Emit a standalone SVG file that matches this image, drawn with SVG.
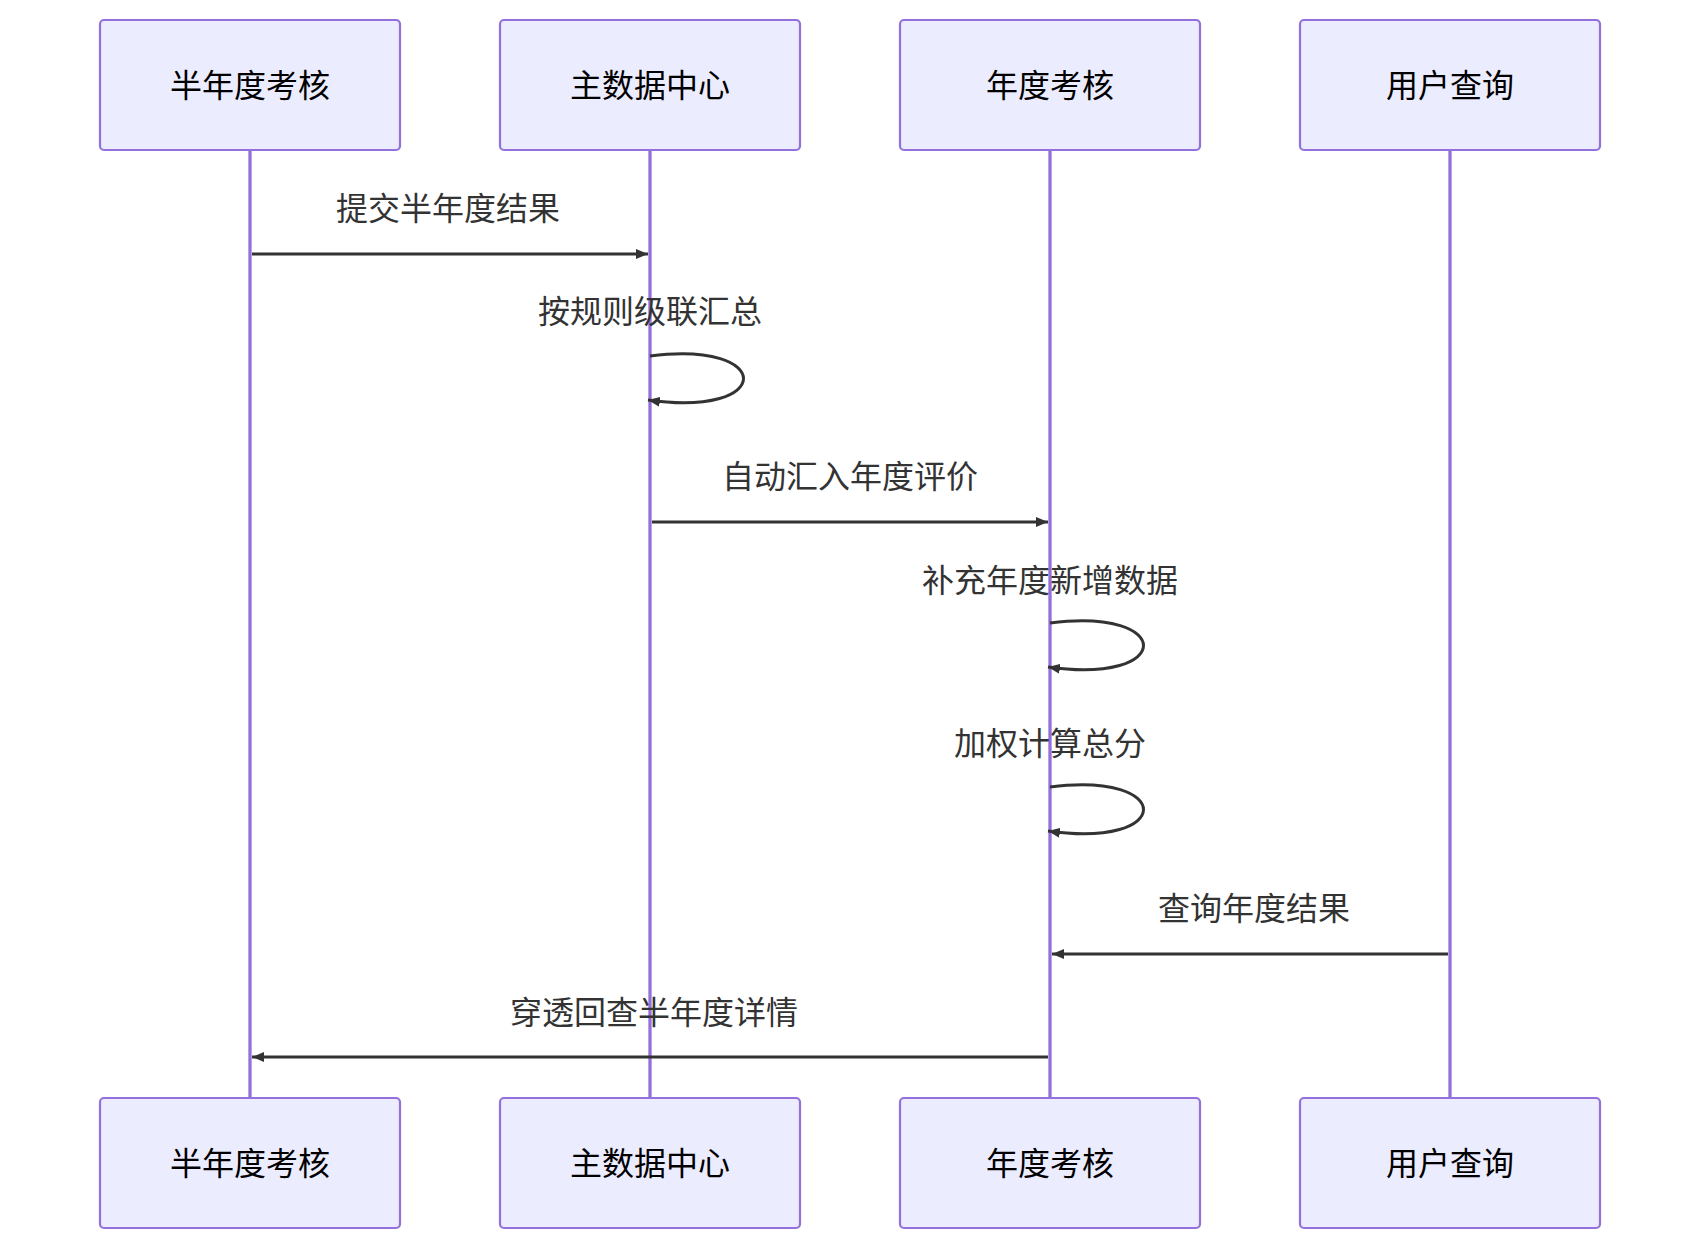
<svg xmlns="http://www.w3.org/2000/svg" width="1700" height="1250" viewBox="0 0 1700 1250">
<defs>
<style>
.box{fill:#ECECFF;stroke:#9370DB;stroke-width:2.2}
.life{stroke:#9370DB;stroke-width:3.3}
.t{font-family:"Liberation Sans","Noto Sans CJK SC",sans-serif;font-size:32px;text-anchor:middle;dominant-baseline:central;fill:#000}
.m{font-family:"Liberation Sans","Noto Sans CJK SC",sans-serif;font-size:32px;text-anchor:middle;fill:#333}
.msg{stroke:#333;stroke-width:3;fill:none;marker-end:url(#a)}
</style>
<marker id="a" viewBox="0 0 12 10" refX="12" refY="5" markerWidth="12" markerHeight="10" markerUnits="userSpaceOnUse" orient="auto"><path d="M0,0L12,5L0,10z" fill="#333"/></marker>
</defs>
<rect width="1700" height="1250" fill="#fff"/>
<g id="lifelines">
<line class="life" x1="250" y1="150" x2="250" y2="1098"/>
<line class="life" x1="650" y1="150" x2="650" y2="1098"/>
<line class="life" x1="1050" y1="150" x2="1050" y2="1098"/>
<line class="life" x1="1450" y1="150" x2="1450" y2="1098"/>
</g>
<g id="semi_top"><rect class="box" x="100" y="20" width="300" height="130" rx="4"/><text class="t" x="250" y="86">半年度考核</text></g>
<g id="mdc_top"><rect class="box" x="500" y="20" width="300" height="130" rx="4"/><text class="t" x="650" y="86">主数据中心</text></g>
<g id="annual_top"><rect class="box" x="900" y="20" width="300" height="130" rx="4"/><text class="t" x="1050" y="86">年度考核</text></g>
<g id="user_top"><rect class="box" x="1300" y="20" width="300" height="130" rx="4"/><text class="t" x="1450" y="86">用户查询</text></g>
<g id="semi_bot"><rect class="box" x="100" y="1098" width="300" height="130" rx="4"/><text class="t" x="250" y="1164">半年度考核</text></g>
<g id="mdc_bot"><rect class="box" x="500" y="1098" width="300" height="130" rx="4"/><text class="t" x="650" y="1164">主数据中心</text></g>
<g id="annual_bot"><rect class="box" x="900" y="1098" width="300" height="130" rx="4"/><text class="t" x="1050" y="1164">年度考核</text></g>
<g id="user_bot"><rect class="box" x="1300" y="1098" width="300" height="130" rx="4"/><text class="t" x="1450" y="1164">用户查询</text></g>
<g id="connectors">
<path class="msg" d="M252,254H648"/>
<text class="m" x="448" y="220">提交半年度结果</text>
<path class="msg" d="M650,356C775,340 775,418 648,400"/>
<text class="m" x="650" y="323">按规则级联汇总</text>
<path class="msg" d="M652,522H1048"/>
<text class="m" x="850" y="488">自动汇入年度评价</text>
<path class="msg" d="M1050,623C1175,607 1175,685 1048,667"/>
<text class="m" x="1050" y="592">补充年度新增数据</text>
<path class="msg" d="M1050,787C1175,771 1175,849 1048,831"/>
<text class="m" x="1050" y="755">加权计算总分</text>
<path class="msg" d="M1448,954H1052"/>
<text class="m" x="1254" y="920">查询年度结果</text>
<path class="msg" d="M1048,1057H252"/>
<text class="m" x="654" y="1024">穿透回查半年度详情</text>
</g>
</svg>
